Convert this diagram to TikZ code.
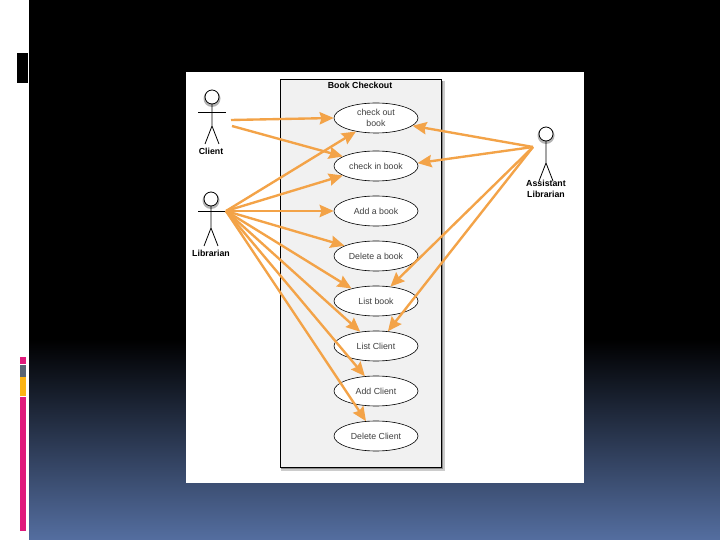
\documentclass[tikz,border=0pt]{standalone}
\usepackage{fontspec}
\setmainfont{Liberation Sans}
\usetikzlibrary{arrows.meta,shapes.geometric}
\definecolor{slidenavy}{RGB}{84,110,160}
\definecolor{slidepink}{RGB}{224,26,124}
\definecolor{slidegrey}{RGB}{88,100,116}
\definecolor{slideyellow}{RGB}{252,180,20}
\definecolor{usearrow}{RGB}{243,163,72}
\definecolor{boxgrey}{RGB}{241,241,241}
\begin{document}
\begin{tikzpicture}[x=.02cm,y=-.02cm,line width=.4pt,
  every node/.style={font=\fontsize{5}{6}\selectfont,inner sep=0pt},
  usecase/.style={draw,ellipse,fill=white,minimum width=84*.02cm,minimum height=30*.02cm,text=black!75,align=center,line width=.35pt},
  actorname/.style={font=\fontsize{5}{6}\selectfont\bfseries,align=center},
  uses/.style={draw=usearrow,line width=1.35pt,-{Stealth[length=8pt,width=7pt,inset=1pt]}},
  actorline/.style={line width=.45pt}]
  \path[use as bounding box] (0,0) rectangle (720,540);
  % slide
  \fill[white] (0,0) rectangle (720,540);
  \fill[black] (29,0) rectangle (720,340);
  \shade[top color=black,bottom color=slidenavy] (29,339) rectangle (720,540);
  \fill[black] (17,53) rectangle (28,83);
  \fill[slidepink] (20,357) rectangle (26,364);
  \fill[slidegrey] (20,365) rectangle (26,377);
  \fill[slideyellow] (20,377) rectangle (26,396);
  \fill[slidepink] (20,397) rectangle (26,531);
  % picture
  \fill[white] (186,72) rectangle (584,483);
  \fill[black!20] (281,81) rectangle (445,471);
  \fill[black!45] (281,81) rectangle (443,469);
  \draw[fill=boxgrey,line width=.5pt] (280,79) rectangle (441,467);
  \node[actorname] (boxtitle) at (360,85) {Book Checkout};
  \node[usecase] (checkout) at (376,118) {check out\\book};
  \node[usecase] (checkin) at (376,166) {check in book};
  \node[usecase] (addbook) at (376,211) {Add a book};
  \node[usecase] (delbook) at (376,256) {Delete a book};
  \node[usecase] (listbook) at (376,301) {List book};
  \node[usecase] (listclient) at (376,346) {List Client};
  \node[usecase] (addclient) at (376,391) {Add Client};
  \node[usecase] (delclient) at (376,436) {Delete Client};
  % actors
  \foreach \name/\hx/\hy in {client/212/97,librarian/211/199,assistant/546/134}{
    \fill[black!30] (\hx,\hy+1.5) circle (8.5);
    \draw[actorline,fill=white] (\hx,\hy) circle (7);
    \draw[actorline] (\hx,\hy+7) -- (\hx,\hy+29) -- (\hx-7,\hy+47) (\hx,\hy+29) -- (\hx+7,\hy+47);
  }
  \draw[actorline] (198,112) -- (226,112) (198,211) -- (226,211);
  \node[actorname] (clientname) at (211,151) {Client};
  \node[actorname] (librarianname) at (211,253) {Librarian};
  \node[actorname] (assistantname) at (546,189) {Assistant\\Librarian};
  \coordinate (clientA) at (231,120);
  \coordinate (clientB) at (232,126);
  \coordinate (librarian) at (226,211);
  \coordinate (assistant) at (533,147);
  % associations
  \draw[uses] (clientA) -- (checkout.west);
  \draw[uses] (clientB) -- (checkin.164);
  \foreach \target/\ang in {checkout/214,checkin/196,addbook/180,delbook/162,listbook/153,listclient/138,addclient/127,delclient/124}{
    \draw[uses] (librarian) -- (\target.\ang);
  }
  \foreach \target/\ang in {checkout/-12,checkin/4,listbook/45,listclient/51}{
    \draw[uses] (assistant) -- (\target.\ang);
  }
\end{tikzpicture}
\end{document}
